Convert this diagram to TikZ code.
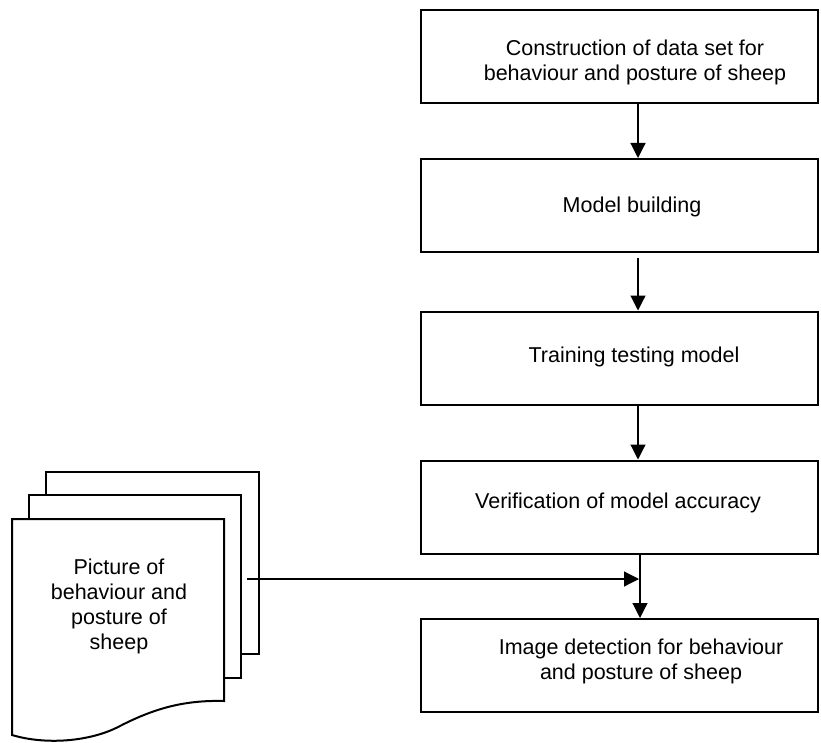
\documentclass[tikz,border=0pt]{standalone}
\usepackage{fontspec}
\setmainfont{Liberation Sans}
\usetikzlibrary{arrows.meta}
\begin{document}
\begin{tikzpicture}[x=1pt,y=-1pt,
  procbox/.style={draw, line width=2pt, minimum width=397pt, minimum height=93pt, inner sep=0pt},
  lbl/.style={font=\fontsize{21.5}{25}\selectfont, align=center, inner sep=0pt, anchor=base},
  flow/.style={line width=1.2pt, -{Triangle[length=15pt,width=15pt]}},
  page/.style={draw, line width=2pt, fill=white, line join=miter}]
\useasboundingbox (0,0) rectangle (821,743);

% process boxes
\node[procbox] (b1) at (619.5,56.5) {};
\node[procbox] (b2) at (619.5,205.5) {};
\node[procbox] (b3) at (619.5,358) {};
\node[procbox] (b4) at (619.5,507) {};
\node[procbox] (b5) at (619.5,665.5) {};

% labels (anchor = baseline of last line)
\node[lbl] (t1) at (635,81) {Construction of data set for\\behaviour and posture of sheep};
\node[lbl] (t2) at (632,213) {Model building};
\node[lbl] (t3) at (634,362) {Training testing model};
\node[lbl] (t4) at (618,508) {Verification of model accuracy};
\node[lbl] (t5) at (641,679) {Image detection for behaviour\\and posture of sheep};

% stacked documents
\draw[page] (46,495) -- (46,472) -- (259,472) -- (259,654) -- (241,654);
\draw[page] (29,519) -- (29,495) -- (241,495) -- (241,678) -- (224,678);
\draw[page] (12,519) -- (224,519) -- (224,701)
  .. controls (185,700) and (155,708) .. (120,726)
  .. controls (90,742) and (45,745) .. (12,735) -- cycle;
\node[lbl] (doc) at (119,649) {Picture of\\behaviour and\\posture of\\sheep};

% connectors
\coordinate (ax) at (638,0);
\coordinate (ay) at (640,0);
\draw[flow] (b1.south -| ax) -- (b2.north -| ax);
\draw[flow] ([yshift=-5pt]b2.south -| ax) -- (b3.north -| ax);
\draw[flow] (b3.south -| ax) -- (b4.north -| ax);
\draw[flow] (b4.south -| ay) -- (b5.north -| ay);
\coordinate (hs) at (247,579);
\coordinate (hj) at (639,579);
\draw[flow] (hs) -- (hj);
\end{tikzpicture}
\end{document}
